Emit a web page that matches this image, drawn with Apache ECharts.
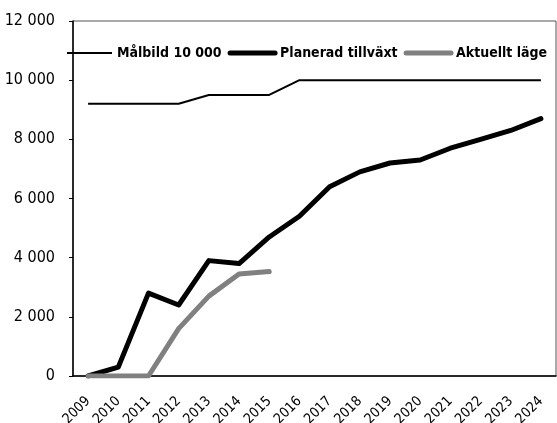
<!DOCTYPE html>
<html>
<head>
<meta charset="utf-8">
<script src="https://cdn.jsdelivr.net/npm/echarts@6/dist/echarts.min.js"></script>
<style>
  html, body { margin: 0; padding: 0; background: #fff; }
  #chart { width: 557px; height: 423px; }
</style>
</head>
<body>
<div id="chart"></div>
<script>
// år
const years = ['2009', '2010', '2011', '2012', '2013', '2014', '2015', '2016',
  '2017', '2018', '2019', '2020', '2021', '2022', '2023', '2024'];
// Målbild 10 000
const malbild = [9200, 9200, 9200, 9200, 9500, 9500, 9500, 10000,
  10000, 10000, 10000, 10000, 10000, 10000, 10000, 10000];
// Planerad tillväxt
const planerad = [0, 300, 2800, 2400, 3900, 3800, 4700, 5400,
  6400, 6900, 7200, 7300, 7700, 8000, 8300, 8700];
// Aktuellt läge
const aktuellt = [0, 0, 0, 1600, 2700, 3450, 3530, null,
  null, null, null, null, null, null, null, null];
const yTicks = { min: 0, max: 12000, interval: 2000 };

const FONT = '"Liberation Sans Narrow", "DejaVu Sans Condensed", sans-serif';

function fmt(v) {
  // tusental med mellanslag
  return String(v).replace(/\B(?=(\d{3})+(?!\d))/g, ' ');
}

const chart = echarts.init(document.getElementById('chart'));

const option = {
  animation: false,
  grid: {
    left: 73, right: 1, top: 21, bottom: 47,
    outerBoundsMode: 'none',
    show: true, borderColor: '#555', borderWidth: 1,
  },
  legend: {
    left: 66,
    top: 46,
    width: 491,
    padding: 0,
    itemWidth: 45,
    itemHeight: 14,
    itemGap: 6,
    itemStyle: { opacity: 0 },
    textStyle: { fontFamily: FONT, fontSize: 14, fontWeight: 'bold', color: '#000' },
    data: [
      { name: 'Målbild 10 000', lineStyle: { width: 2 } },
      { name: 'Planerad tillväxt', lineStyle: { width: 5, cap: 'round' } },
      { name: 'Aktuellt läge', lineStyle: { width: 5, cap: 'round' } },
    ],
  },
  xAxis: [
    {
      type: 'category',
      data: years,
      boundaryGap: true,
      axisLine: { lineStyle: { color: '#000', width: 1.5 } },
      axisTick: { length: 4, lineStyle: { color: '#000', width: 1 } },
      axisLabel: {
        rotate: 45, interval: 0, margin: 23,
        fontFamily: FONT, fontSize: 14, color: '#000',
      },
      splitLine: { show: false },
    },
    {
      type: 'category',
      data: years,
      position: 'bottom',
      boundaryGap: true,
      axisLine: { show: false },
      axisTick: { inside: true, length: 4, lineStyle: { color: '#000', width: 1 } },
      axisLabel: { show: false },
      splitLine: { show: false },
    },
  ],
  yAxis: {
    type: 'value',
    min: yTicks.min,
    max: yTicks.max,
    interval: yTicks.interval,
    axisLine: { show: true, lineStyle: { color: '#000', width: 1.5 } },
    axisTick: { show: true, length: 4, lineStyle: { color: '#000', width: 1 } },
    axisLabel: {
      margin: 18, fontFamily: FONT, fontSize: 16, color: '#000',
      formatter: fmt,
    },
    splitLine: { show: false },
  },
  series: [
    {
      name: 'Målbild 10 000',
      type: 'line',
      data: malbild,
      symbol: 'none',
      color: '#000',
      lineStyle: { color: '#000', width: 2 },
    },
    {
      name: 'Planerad tillväxt',
      type: 'line',
      data: planerad,
      symbol: 'none',
      color: '#000',
      lineStyle: { color: '#000', width: 5, cap: 'round', join: 'round' },
    },
    {
      name: 'Aktuellt läge',
      type: 'line',
      data: aktuellt,
      symbol: 'none',
      color: '#808080',
      lineStyle: { color: '#808080', width: 5, cap: 'round', join: 'round' },
    },
  ],
};

chart.setOption(option);
</script>
</body>
</html>
